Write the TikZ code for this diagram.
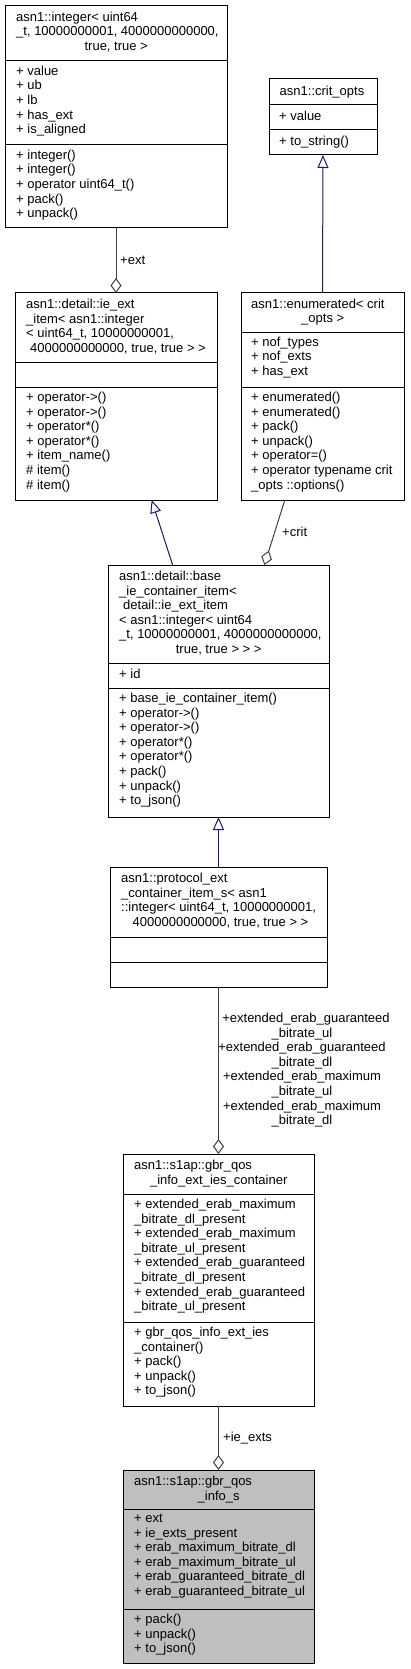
\documentclass[tikz,border=0pt]{standalone}
\usepackage{fontspec}
\setmainfont{Liberation Sans}
\usetikzlibrary{arrows.meta}
\definecolor{edgegrey}{HTML}{404040}
\definecolor{midblue}{HTML}{191970}
\definecolor{rootfill}{HTML}{BFBFBF}
\tikzset{
  cls/.style={draw=black, line width=1pt, fill=white, inner sep=0pt, outer sep=0pt, anchor=north west},
  txt/.style={anchor=north west, yshift=10.22pt, align=left, inner sep=0pt, font=\fontsize{13}{14.6}\selectfont, execute at begin node=\strut},
  ctxt/.style={anchor=north, yshift=10.22pt, align=center, inner sep=0pt, font=\fontsize{13}{14.6}\selectfont, execute at begin node=\strut},
  divider/.style={draw=black, line width=1pt},
  agg/.style={draw=edgegrey, line width=1pt, -{Diamond[open,length=15pt,width=11pt]}},
  inh/.style={draw=midblue, line width=1pt, -{Triangle[open,length=13pt,width=11pt]}},
}
\begin{document}
\begin{tikzpicture}[x=1pt,y=-1pt]
\useasboundingbox (0,0) rectangle (410,1669);

% ---- asn1::integer
\node[cls, minimum width=222pt, minimum height=222pt] (int) at (5,6) {};
\draw[divider] (5,61) -- (227,61);
\draw[divider] (5,145) -- (227,145);
\node[txt] (intT) at (16,22) {asn1::integer< uint64\\\_t, 10000000001, 4000000000000,\\\makebox[200pt]{true, true >}};
\node[txt] (intA) at (16,76) {+ value\\+ ub\\+ lb\\+ has\_ext\\+ is\_aligned};
\node[txt] (intM) at (16,160) {+ integer()\\+ integer()\\+ operator uint64\_t()\\+ pack()\\+ unpack()};

% ---- asn1::crit_opts
\node[cls, minimum width=108pt, minimum height=76pt] (crit) at (269,79) {};
\draw[divider] (269,105) -- (377,105);
\draw[divider] (269,130) -- (377,130);
\node[ctxt] (critT) at (322,95) {asn1::crit\_opts};
\node[txt] (critA) at (279,120) {+ value};
\node[txt] (critM) at (279,145) {+ to\_string()};

% ---- asn1::detail::ie_ext_item
\node[cls, minimum width=202pt, minimum height=207pt] (ieext) at (15,293) {};
\draw[divider] (15,362) -- (217,362);
\draw[divider] (15,387) -- (217,387);
\node[txt] (ieextT) at (26,309) {asn1::detail::ie\_ext\\\_item< asn1::integer\\< uint64\_t, 10000000001,\\\makebox[180pt]{ 4000000000000, true, true > >}};
\node[txt] (ieextM) at (26,402) {+ operator->()\\+ operator->()\\+ operator*()\\+ operator*()\\+ item\_name()\\\# item()\\\# item()};

% ---- asn1::enumerated
\node[cls, minimum width=163pt, minimum height=207pt] (enum) at (241,293) {};
\draw[divider] (241,332) -- (404,332);
\draw[divider] (241,387) -- (404,387);
\node[txt] (enumT) at (251,309) {asn1::enumerated< crit\\\makebox[143pt]{\_opts >}};
\node[txt] (enumA) at (251,347) {+ nof\_types\\+ nof\_exts\\+ has\_ext};
\node[txt] (enumM) at (251,402) {+ enumerated()\\+ enumerated()\\+ pack()\\+ unpack()\\+ operator=()\\+ operator typename crit\\\_opts ::options()};

% ---- asn1::detail::base_ie_container_item
\node[cls, minimum width=221pt, minimum height=252pt] (base) at (108,565) {};
\draw[divider] (108,663) -- (329,663);
\draw[divider] (108,688) -- (329,688);
\node[txt] (baseT) at (119,581) {asn1::detail::base\\\_ie\_container\_item<\\\hspace*{4pt}detail::ie\_ext\_item\\< asn1::integer< uint64\\\_t, 10000000001, 4000000000000,\\\makebox[199pt]{true, true > > >}};
\node[txt] (baseA) at (119,678) {+ id};
\node[txt] (baseM) at (119,703) {+ base\_ie\_container\_item()\\+ operator->()\\+ operator->()\\+ operator*()\\+ operator*()\\+ pack()\\+ unpack()\\+ to\_json()};

% ---- asn1::protocol_ext_container_item_s
\node[cls, minimum width=217pt, minimum height=120pt] (proto) at (110,867) {};
\draw[divider] (110,937) -- (327,937);
\draw[divider] (110,962) -- (327,962);
\node[txt] (protoT) at (121,883) {asn1::protocol\_ext\\\_container\_item\_s< asn1\\::integer< uint64\_t, 10000000001,\\\makebox[195pt]{ 4000000000000, true, true > >}};

% ---- asn1::s1ap::gbr_qos_info_ext_ies_container
\node[cls, minimum width=191pt, minimum height=252pt] (ies) at (123,1154) {};
\draw[divider] (123,1194) -- (314,1194);
\draw[divider] (123,1322) -- (314,1322);
\node[txt] (iesT) at (134,1170) {asn1::s1ap::gbr\_qos\\\makebox[169pt]{\_info\_ext\_ies\_container}};
\node[txt] (iesA) at (134,1209) {+ extended\_erab\_maximum\\\_bitrate\_dl\_present\\+ extended\_erab\_maximum\\\_bitrate\_ul\_present\\+ extended\_erab\_guaranteed\\\_bitrate\_dl\_present\\+ extended\_erab\_guaranteed\\\_bitrate\_ul\_present};
\node[txt] (iesM) at (134,1337) {+ gbr\_qos\_info\_ext\_ies\\\_container()\\+ pack()\\+ unpack()\\+ to\_json()};

% ---- asn1::s1ap::gbr_qos_info_s
\node[cls, fill=rootfill, minimum width=191pt, minimum height=193pt] (info) at (123,1470) {};
\draw[divider] (123,1509) -- (314,1509);
\draw[divider] (123,1609) -- (314,1609);
\node[txt] (infoT) at (134,1486) {asn1::s1ap::gbr\_qos\\\makebox[169pt]{\_info\_s}};
\node[txt] (infoA) at (134,1524) {+ ext\\+ ie\_exts\_present\\+ erab\_maximum\_bitrate\_dl\\+ erab\_maximum\_bitrate\_ul\\+ erab\_guaranteed\_bitrate\_dl\\+ erab\_guaranteed\_bitrate\_ul};
\node[txt] (infoM) at (134,1624) {+ pack()\\+ unpack()\\+ to\_json()};

% ---- connectors
\draw[agg] (int.south) -- (ieext.north);
\node[txt] (lblext) at (120,264) {+ext};
\draw[inh] (enum.north) -- (crit.south);
\draw[agg] (enum.250.6) -- (base.70.5);
\node[txt] (lblcrit) at (282,536) {+crit};
\draw[inh] (base.110.3) -- (ieext.289.2);
\draw[inh] (proto.north) -- (base.south);
\draw[agg] (proto.south) -- (ies.north);
\node[ctxt] (lblbig) at (302,1023) {\hspace*{8pt}+extended\_erab\_guaranteed\\\_bitrate\_ul\\+extended\_erab\_guaranteed\\\_bitrate\_dl\\+extended\_erab\_maximum\\\_bitrate\_ul\\+extended\_erab\_maximum\\\_bitrate\_dl};
\draw[agg] (ies.south) -- (info.north);
\node[txt] (lblies) at (223,1441) {+ie\_exts};
\end{tikzpicture}
\end{document}
